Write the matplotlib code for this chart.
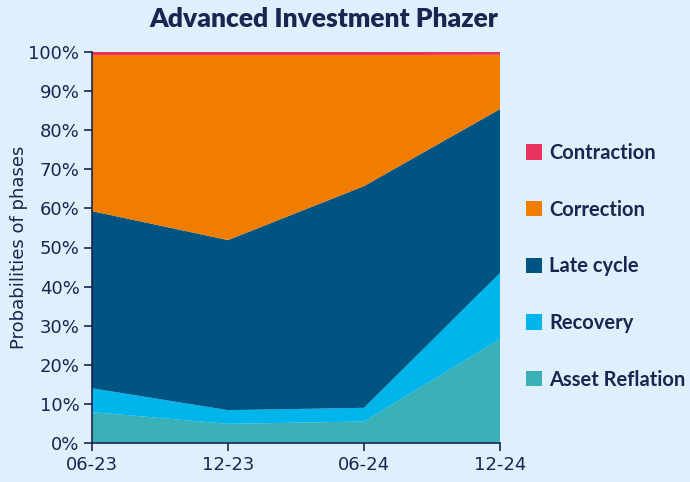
import matplotlib
matplotlib.use("Agg")
import matplotlib.pyplot as plt
import numpy as np
from matplotlib.patches import Patch

dates = ["06-23", "12-23", "06-24", "12-24"]
asset_reflation = [7.9, 4.9, 5.5, 26.6]
recovery = [6.1, 3.5, 3.5, 16.9]
late_cycle = [45.3, 43.5, 56.7, 41.9]
correction = [39.9, 47.3, 33.5, 13.9]
contraction = [0.8, 0.8, 0.8, 0.7]

series = [asset_reflation, recovery, late_cycle, correction, contraction]
labels = ["Asset Reflation", "Recovery", "Late cycle", "Correction", "Contraction"]
colors = ["#3ab1b7", "#00b4ec", "#005482", "#f07d00", "#e8335f"]

bg = "#dff0fc"
navy = "#1a2550"

fig = plt.figure(figsize=(6.9, 4.82), dpi=100, facecolor=bg)
ax = fig.add_axes([92/690, 1-443/482, (500-92)/690, (443-52)/482])
ax.set_facecolor(bg)

x = np.arange(len(dates))
ax.stackplot(x, *series, colors=colors, labels=labels, linewidth=0)

ax.set_xlim(0, len(dates)-1)
ax.set_ylim(0, 100)
ax.set_xticks(x)
ax.set_xticklabels(dates)
ax.set_yticks(np.arange(0, 101, 10))
ax.set_yticklabels([f"{v}%" for v in range(0, 101, 10)])
for s in ["top", "right"]:
    ax.spines[s].set_visible(False)
for s in ["left", "bottom"]:
    ax.spines[s].set_color(navy)
    ax.spines[s].set_linewidth(1.2)
ax.tick_params(axis="both", colors=navy, labelcolor=navy, labelsize=13, length=6, width=1.2)
ax.tick_params(axis="y", pad=3)
for t in ax.get_xticklabels() + ax.get_yticklabels():
    t.set_fontfamily("DejaVu Sans")
ax.set_ylabel("Probabilities of phases", color=navy, fontsize=13, labelpad=0, family="DejaVu Sans")

fig.text(324/690, 1-19/482, "Advanced Investment Phazer", ha="center", va="center",
         fontsize=19, fontweight="heavy", color=navy, family="Lato")

handles = [Patch(facecolor=c, edgecolor="none") for c in colors[::-1]]
leg = fig.legend(handles, labels[::-1], loc="upper left", bbox_to_anchor=(526/690, 1-143/482),
                 frameon=False, handlelength=0.8, handleheight=0.8, handletextpad=0.35,
                 labelspacing=1.82, borderpad=0, borderaxespad=0,
                 prop={"family": "Lato", "weight": "bold", "size": 14.5})
for t in leg.get_texts():
    t.set_color(navy)

fig.savefig("out.png", dpi=100, facecolor=bg)
